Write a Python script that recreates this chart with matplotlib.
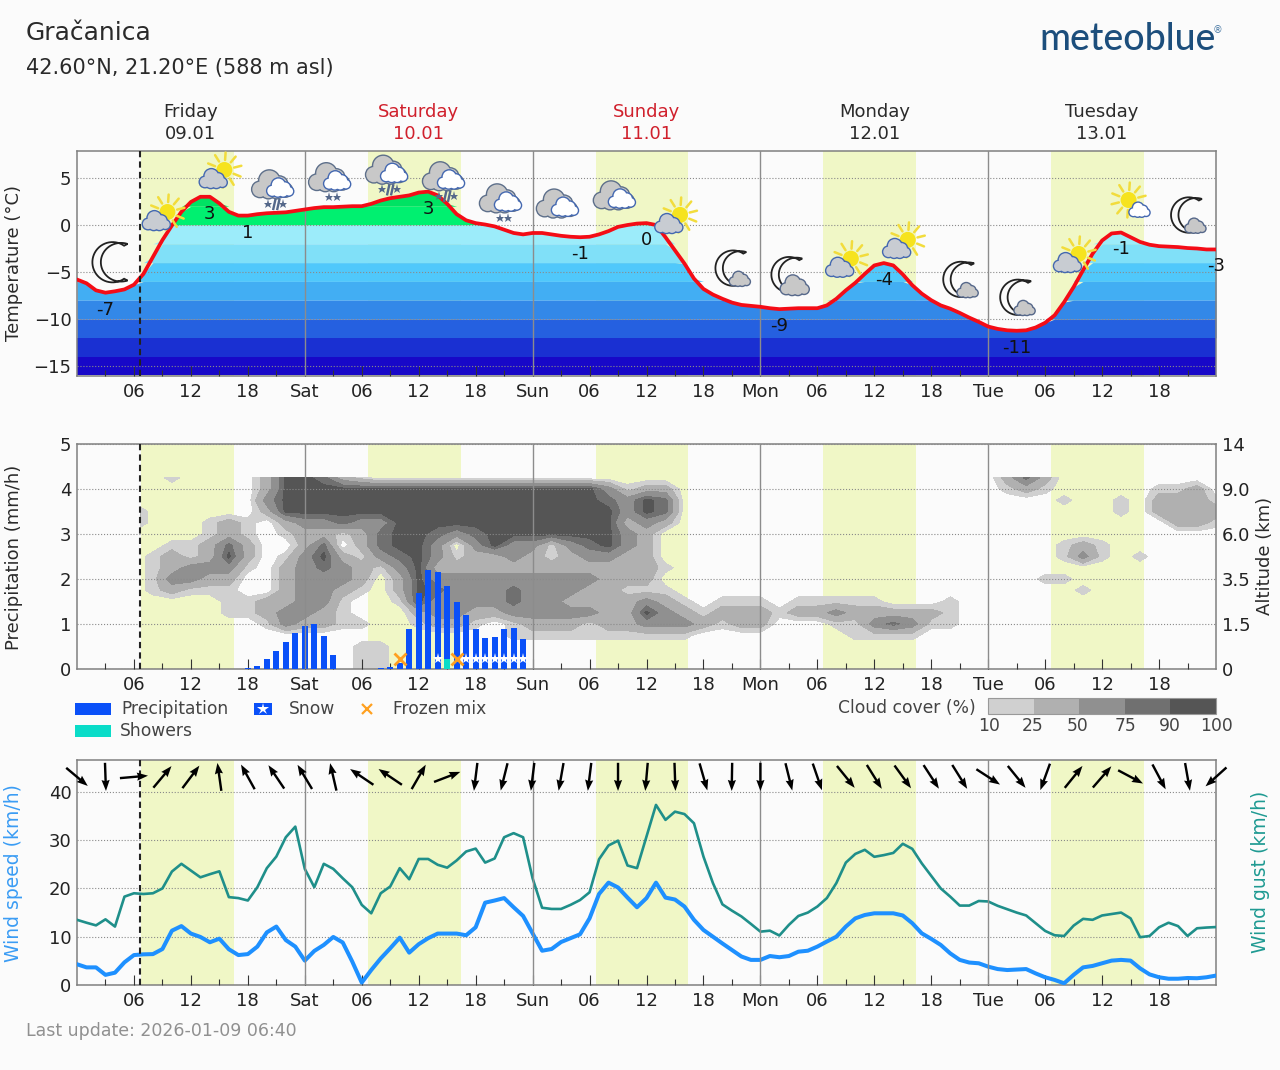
import numpy as np
from matplotlib import pyplot as plt
from matplotlib.patches import Ellipse, PathPatch, Polygon, Rectangle
from matplotlib.path import Path

W, H = 1280, 1070
PX_H = 9.49  # pixels per hour
PX_T = 9.4  # pixels per degree in the temperature panel

BG = "#fbfbfb"
DAY = "#f0f7c6"
GRID = "#8a8a8a"
SPINE = "#808080"

day_names = ["Friday", "Saturday", "Sunday", "Monday", "Tuesday"]
day_dates = ["09.01", "10.01", "11.01", "12.01", "13.01"]
day_colors = ["#2a2a2a", "#d0202c", "#d0202c", "#2a2a2a", "#2a2a2a"]
day_start = [6.7, 30.65, 54.65, 78.6, 102.6]
day_end = [16.5, 40.5, 64.4, 88.4, 112.4]
now_hour = 6.67

tick_hours = list(range(6, 120, 6))
tick_labels = ["06", "12", "18", "Sat", "06", "12", "18", "Sun", "06", "12", "18",
               "Mon", "06", "12", "18", "Tue", "06", "12", "18"]

# hourly temperature, hour 0 to 120
temperature = [
    -5.8, -6.2, -6.95, -7.2, -7.05, -6.85, -6.35, -5.2, -3.4, -1.6, -0.05, 1.4, 2.45,
    3.0, 3.0, 2.3, 1.4, 1.0, 1.0, 1.15, 1.25, 1.3, 1.35, 1.5, 1.65, 1.8, 1.9, 1.9,
    1.95, 2.0, 2.0, 2.25, 2.6, 2.85, 3.0, 3.15, 3.45, 3.55, 3.15, 2.25, 1.15, 0.5,
    0.2, 0.05, -0.15, -0.5, -0.85, -1.0, -0.85, -0.85, -1.0, -1.15, -1.25, -1.3,
    -1.25, -1.0, -0.65, -0.2, 0.0, 0.15, 0.2, 0.0, -1.3, -2.7, -4.1, -5.7, -6.8,
    -7.4, -7.85, -8.25, -8.5, -8.6, -8.7, -8.85, -8.95, -8.9, -8.85, -8.85, -8.85,
    -8.55, -7.85, -6.95, -6.15, -5.2, -4.3, -4.05, -4.3, -5.25, -6.4, -7.3, -8.0,
    -8.55, -8.9, -9.35, -9.85, -10.3, -10.8, -11.05, -11.2, -11.25, -11.2, -10.9,
    -10.4, -9.6, -8.2, -6.6, -4.8, -3.05, -1.65, -0.9, -0.8, -1.3, -1.8, -2.1,
    -2.25, -2.3, -2.35, -2.45, -2.5, -2.6, -2.6,
]
temp_label_hours = [3, 14, 18, 37, 53, 60, 74, 85, 99, 110, 120]
temp_label_text = ["-7", "3", "1", "3", "-1", "0", "-9", "-4", "-11", "-1", "-3"]

band_edges = [4, 2, 0, -2, -4, -6, -8, -10, -12, -14, -16]
band_colors = ["#00e263", "#00f070", "#9cecfa", "#80e0f8", "#50c8fb", "#42aef3",
               "#3388e8", "#2560e0", "#1a30d2", "#1808c8"]

icon_hours = list(range(3, 120, 6))
icon_temps = [-3.96, 1.06, 5.53, 3.94, 4.7, 5.5, 4.8, 2.45, 1.9, 2.77, 0.75, -4.8,
              -5.6, -3.9, -1.9, -6.0, -7.9, -3.4, 2.34, 0.85]
icon_kinds = ["moon", "sun", "sun", "sleet", "snow", "sleet", "sleet", "snow", "over",
              "over", "sun", "mooncloud", "moonbig", "sun", "sun", "mooncloud",
              "mooncloud", "sun", "sunwhite", "mooncloud"]

# cloud cover classes, one char per 2 hours, rows at altitude steps of 0.25 on the axis
cloud_rows = {
    4.25: "0000010000" "2554210000" "0000000000" "0000000000" "0000000002" "4200000000",
    4.00: "0000000000" "2555555555" "5555555531" "2200000000" "0000000001" "2100000112",
    3.75: "0000000000" "3555555555" "5555555543" "5400000000" "0000000000" "0010010222" "1",
    3.50: "0002000000" "2555555555" "5555555553" "5400000000" "0000000000" "0000010222" "2",
    3.25: "0002000121" "0233433555" "5555555552" "3200000000" "0000000000" "0000000022" "1",
    3.00: "0000000121" "0122124554" "3455555553" "2000000000",
    2.75: "0000011242" "0024024553" "0353313453" "2000000000" "0000000000" "0012100000",
    2.50: "0000121252" "0135213453" "1223212332" "2000000000" "0000000000" "0013101000",
    2.25: "0000123331" "0234321352" "2222222222" "2100000000",
    2.00: "0000133220" "0233320253" "3333333322" "2000000000" "0000000000" "0110000000",
    1.75: "0000121110" "0233210254" "3334333221" "1100000000" "0000000000" "0001000000",
    1.50: "0000000011" "2233100153" "3334332222" "3210111011" "1110001000",
    1.25: "0000000011" "2332100023" "3223333322" "5321222122" "3222221000",
    1.00: "0000000000" "1322110012" "2101222122" "3332122000" "1134311000",
    0.75: "0000000000" "0000000000" "0001111111" "1110000000" "0111100000",
    0.50: "0000000000" "0000011000",
    0.25: "0000000000" "0000011000",
    0.00: "0000000000" "0000011000",
}
cloud_class_value = [0, 17, 37, 62, 82, 95]
cloud_levels = [10, 25, 50, 75, 90, 100]
cloud_colors = ["#d0d0d0", "#b0b0b0", "#909090", "#707070", "#555555"]

precip_hours = [18, 19, 20, 21, 22, 23, 24, 25, 26, 27, 32, 33, 34, 35, 36, 37, 38, 39,
                40, 41, 42, 43, 44, 45, 46, 47]
precip = [0.02, 0.07, 0.22, 0.39, 0.59, 0.79, 0.96, 1.0, 0.74, 0.32, 0.02, 0.05, 0.13,
          0.89, 1.68, 2.2, 2.15, 1.85, 1.5, 1.2, 0.89, 0.69, 0.72, 0.89, 0.91, 0.67]
shower_hours = [39]
showers = [0.22]
snow_hours = [38, 41, 42, 43, 44, 45, 46, 47]
frozen_hours = [34, 40]
symbol_level = 0.22

altitude_labels = ["0", "1.5", "3.5", "6.0", "9.0", "14"]
cover_labels = ["10", "25", "50", "75", "90", "100"]

wind_speed = [
    4.3, 3.65, 3.65, 2.1, 2.55, 4.7, 6.2, 6.35, 6.4, 7.45, 11.25, 12.2, 10.65, 9.95,
    8.85, 9.6, 7.4, 6.2, 6.4, 7.95, 10.9, 12.1, 9.3, 7.95, 5.05, 7.05, 8.3, 9.95, 8.8,
    4.85, 0.5, 3.1, 5.5, 7.6, 9.8, 6.7, 8.45, 9.7, 10.65, 10.65, 10.65, 10.3, 11.95,
    17.05, 17.5, 18.0, 16.1, 14.3, 10.7, 7.1, 7.45, 8.9, 9.7, 10.5, 13.8, 18.85, 21.2,
    20.2, 18.1, 16.1, 18.0, 21.2, 18.1, 17.7, 16.25, 13.5, 11.4, 10.0, 8.6, 7.25, 5.9,
    5.2, 5.2, 6.0, 5.75, 6.0, 6.9, 7.1, 7.95, 9.0, 10.0, 12.1, 13.8, 14.5, 14.85,
    14.85, 14.85, 14.4, 12.8, 10.7, 9.55, 8.3, 6.55, 5.2, 4.65, 4.5, 3.8, 3.3, 3.1,
    3.2, 3.3, 2.4, 1.6, 1.05, 0.35, 2.1, 3.65, 3.95, 4.5, 5.05, 5.2, 5.05, 3.45, 2.2,
    1.6, 1.3, 1.3, 1.45, 1.4, 1.6, 1.95,
]
wind_gust = [
    13.5, 12.9, 12.35, 13.6, 12.1, 18.3, 19.0, 18.85, 19.0, 20.0, 23.5, 25.1, 23.7,
    22.3, 22.95, 23.55, 18.2, 18.0, 17.5, 20.25, 24.2, 26.6, 30.6, 32.8, 24.05, 20.25,
    25.1, 24.05, 22.1, 20.25, 16.6, 14.85, 19.0, 20.4, 24.2, 21.9, 26.1, 26.1, 24.9,
    24.3, 25.8, 27.65, 28.25, 25.35, 26.2, 30.6, 31.45, 30.6, 22.1, 16.0, 15.75, 15.75,
    16.6, 17.6, 19.2, 26.05, 28.9, 29.9, 24.75, 24.2, 30.75, 37.3, 34.2, 35.9, 35.4,
    33.5, 26.6, 21.1, 16.7, 15.4, 14.2, 12.65, 11.05, 11.25, 10.25, 12.45, 14.3, 15.0,
    16.25, 18.0, 21.1, 25.35, 27.15, 28.0, 26.55, 26.9, 27.35, 29.25, 28.2, 25.2, 22.6,
    20.0, 18.3, 16.45, 16.45, 17.4, 17.3, 16.4, 15.7, 15.0, 14.4, 12.8, 11.2, 10.3,
    10.15, 12.3, 13.7, 13.5, 14.4, 14.7, 15.0, 13.8, 9.9, 10.15, 11.95, 12.9, 12.2,
    10.15, 11.75, 11.9, 12.0,
]
# direction each arrow points to, degrees clockwise from north, every 3 hours
wind_heading = [
    130, 178, 85, 40, 37, 352, 331, 326, 329, 347, 304, 304, 30, 69, 187, 194, 187,
    190, 187, 180, 185, 178, 164, 181, 180, 166, 161, 141, 148, 144, 147, 148, 123,
    141, 200, 39, 41, 118, 152, 170, 228,
]

plt.rcParams["font.family"] = "DejaVu Sans"
plt.rcParams["font.size"] = 13
plt.rcParams["text.color"] = "#2a2a2a"

fig = plt.figure(figsize=(W / 100, H / 100), dpi=100, facecolor=BG)


def fx(x):
    return x / W


def fy(y):
    return 1 - y / H


def make_panel(top, bottom):
    ax = fig.add_axes([fx(77), fy(bottom), fx(1139), (bottom - top) / H], facecolor=BG)
    ax.set_xlim(0, 120)
    for s, e in zip(day_start, day_end):
        ax.axvspan(s, e, color=DAY, lw=0, zorder=1)
    for d in range(24, 120, 24):
        ax.axvline(d, color="#8c8c8c", lw=1, zorder=4)
    ax.axvline(now_hour, color="#222222", lw=1.5, ls=(0, (3, 2)), zorder=6)
    ax.set_xticks(tick_hours)
    ax.set_xticklabels(tick_labels)
    ax.set_xticks(range(3, 120, 6), minor=True)
    ax.tick_params(axis="x", which="major", direction="in", length=7, width=0.8,
                   color="#333333", labelcolor="#222222", labelsize=13, pad=5)
    ax.tick_params(axis="x", which="minor", direction="in", length=4, width=0.8,
                   color="#333333")
    ax.tick_params(axis="y", length=0, pad=4, labelcolor="#222222", labelsize=13)
    ax.set_axisbelow(False)
    ax.yaxis.grid(True, color=GRID, lw=0.8, ls=":")
    for s in ax.spines.values():
        s.set_color(SPINE)
        s.set_linewidth(1.1)
    return ax


# weather symbols, sizes are given in pixels around the symbol centre
def blob(ax, h, t, dx, dy, rx, ry, color, z):
    ax.add_patch(Ellipse((h + dx / PX_H, t + dy / PX_T), 2 * rx / PX_H, 2 * ry / PX_T,
                         fc=color, ec="none", zorder=z, clip_on=False))


def cloud(ax, h, t, dx, dy, width, fill, edge, z=7):
    s = width / 2
    lobes = [(-0.62, -0.22, 0.38), (-0.15, 0.22, 0.5), (0.35, 0.02, 0.4), (0.66, -0.26, 0.32),
             (-0.2, -0.3, 0.36), (0.22, -0.3, 0.36)]
    for lx, ly, r in lobes:
        blob(ax, h, t, dx + lx * s, dy + ly * s, r * s + 1.4, r * s + 1.4, edge, z)
    for lx, ly, r in lobes:
        blob(ax, h, t, dx + lx * s, dy + ly * s, r * s, r * s, fill, z + 0.1)


def sun(ax, h, t, dx, dy, r=8):
    for a in np.arange(0, 360, 36) + 14:
        x0 = r * 1.25 * np.cos(np.radians(a))
        y0 = r * 1.25 * np.sin(np.radians(a))
        ax.plot([h + (dx + x0) / PX_H, h + (dx + x0 * 1.75) / PX_H],
                [t + (dy + y0) / PX_T, t + (dy + y0 * 1.75) / PX_T],
                color="#f2dc3c", lw=1.8, zorder=7, clip_on=False, solid_capstyle="round")
    blob(ax, h, t, dx, dy, r, r, "#f6e31e", 7)


def moon(ax, h, t, dx, dy, tall):
    a = np.radians(np.linspace(55, 305, 40))
    r = tall / 2 / np.sin(np.radians(55))
    ox = r * np.cos(a) + r * 0.35
    oy = r * np.sin(a)
    b = np.radians(np.linspace(305 - 16, 55 + 16, 40))
    r2 = r * 1.0
    ix = r2 * np.cos(b) + r * 0.35 + r * 0.42
    iy = r2 * np.sin(b) * 0.96
    xs = h + (dx + np.r_[ox, ix]) / PX_H
    ys = t + (dy + np.r_[oy, iy]) / PX_T
    ax.add_patch(Polygon(np.c_[xs, ys], closed=True, fc="#fbfbfb", ec="#222222", lw=1.3,
                         zorder=7, clip_on=False))


def three_clouds(ax, h, t):
    cloud(ax, h, t, -4, 3, 40, "#c8c8c8", "#5d6f8a")
    cloud(ax, h, t, 4, 0, 26, "#ffffff", "#4468b0", z=7.5)


def flakes(ax, h, t, dy, offs):
    for o in offs:
        ax.plot(h + o / PX_H, t + dy / PX_T, marker="*", ms=6.5, color="#55688a", mew=0,
                zorder=8, clip_on=False)


def draw_icon(ax, kind, h, t):
    if kind == "moon":
        moon(ax, h, t, 0, 0, 33)
    elif kind == "sun":
        sun(ax, h, t, 5, 3)
        cloud(ax, h, t, -6, -6, 27, "#c8ccd2", "#4468b0", z=7.5)
    elif kind == "sunwhite":
        sun(ax, h, t, -2, 3)
        cloud(ax, h, t, 9, -7, 20, "#ffffff", "#4468b0", z=7.5)
    elif kind == "mooncloud":
        moon(ax, h, t, -5, 2, 29)
        cloud(ax, h, t, 8, -9, 20, "#c8c8c8", "#56688a", z=7.5)
    elif kind == "moonbig":
        moon(ax, h, t, -6, 3, 29)
        cloud(ax, h, t, 6, -8, 28, "#c8c8c8", "#56688a", z=7.5)
    else:
        three_clouds(ax, h, t)
        if kind == "snow":
            flakes(ax, h, t, -16, [-4, 4])
        if kind == "sleet":
            flakes(ax, h, t, -16, [-8, 7])
            for o in [-2, 2]:
                ax.plot([h + (o - 1) / PX_H, h + (o + 1) / PX_H],
                        [t - 21 / PX_T, t - 12 / PX_T], color="#55688a", lw=1.7, zorder=8,
                        clip_on=False)


# temperature panel
ax1 = make_panel(151, 376)
ax1.set_ylim(-16.06, 7.87)
ax1.set_yticks([-15, -10, -5, 0, 5])
ax1.set_yticklabels(["\u221215", "\u221210", "\u22125", "0", "5"])
hours = np.arange(len(temperature))
temp = np.array(temperature)
for i, c in enumerate(band_colors):
    hi, lo = band_edges[i], band_edges[i + 1]
    ax1.fill_between(hours, lo, np.clip(temp, lo, hi), color=c, lw=0, zorder=2)
ax1.plot(hours, temp, color="#f40c16", lw=2.7, zorder=5, solid_capstyle="round")
for h, txt in zip(temp_label_hours, temp_label_text):
    ax1.annotate(txt, (h, temp[h]), xytext=(0, -12.2), textcoords="offset points",
                 ha="center", va="center", fontsize=13, color="#111111", zorder=9,
                 annotation_clip=False)
for k, h, t in zip(icon_kinds, icon_hours, icon_temps):
    draw_icon(ax1, k, h, t)
ax1.set_xlim(0, 120)
ax1.set_ylim(-16.06, 7.87)

for i in range(5):
    cx = 12 + 24 * i
    tr = ax1.get_xaxis_transform()
    ax1.text(cx, fy(112) * 0 + (376 - 112) / 225, day_names[i], transform=tr, ha="center",
             va="center", color=day_colors[i], fontsize=13)
    ax1.text(cx, (376 - 134) / 225, day_dates[i], transform=tr, ha="center", va="center",
             color=day_colors[i], fontsize=13)

# precipitation and cloud cover panel
ax2 = make_panel(444, 669)
ax2.set_ylim(0, 5)
ax2.set_yticks(range(6))
cloud_y = sorted(cloud_rows)
cloud_x = np.arange(0, 121, 2)
cover = np.array([[cloud_class_value[int(c)] for c in cloud_rows[y].ljust(61, "0")]
                  for y in cloud_y], dtype=float)
cs = ax2.contourf(cloud_x, cloud_y, cover, levels=cloud_levels, colors=cloud_colors,
                  zorder=2)
cs.set_clip_path(Rectangle((now_hour, 0), 120 - now_hour, 5, transform=ax2.transData))
ax2.bar(precip_hours, precip, width=0.62, color="#0a50f8", lw=0, zorder=3)
ax2.bar(shower_hours, showers, width=0.62, color="#0adcc8", lw=0, zorder=3.1)
ax2.plot(snow_hours, [symbol_level] * len(snow_hours), ls="", marker="*", ms=8,
         color="white", mew=0, zorder=3.2)
ax2.plot(frozen_hours, [symbol_level] * len(frozen_hours), ls="", marker="x", ms=8,
         color="#ffa020", mew=2, zorder=3.3)
ax2r = ax2.twinx()
ax2r.set_ylim(0, 5)
ax2r.set_yticks(range(6))
ax2r.set_yticklabels(altitude_labels)
ax2r.tick_params(axis="y", length=0, pad=4, labelcolor="#222222", labelsize=13)
for s in ax2r.spines.values():
    s.set_visible(False)

# wind panel
ax3 = make_panel(760, 985)
ax3.set_ylim(0, 46.6)
ax3.set_yticks([0, 10, 20, 30, 40])
ax3.plot(np.arange(len(wind_gust)), wind_gust, color="#1f8f8a", lw=1.9, zorder=3)
ax3.plot(np.arange(len(wind_speed)), wind_speed, color="#1e90ff", lw=2.9, zorder=3.5)
arrow_hours = np.arange(0, 121, 3)
rad = np.radians(wind_heading)
ax3.quiver(arrow_hours, np.full(len(arrow_hours), 43.1), np.sin(rad), np.cos(rad),
           pivot="middle", angles="uv", scale_units="inches", scale=3.55, units="inches",
           width=0.024, headwidth=3.4, headlength=4.6, headaxislength=4.2, color="black",
           zorder=7, clip_on=False)

# axis titles
fig.text(fx(14), fy(263), "Temperature (°C)", rotation=90, ha="center", va="center",
         fontsize=13, color="#2a2a2a")
fig.text(fx(14), fy(557), "Precipitation (mm/h)", rotation=90, ha="center", va="center",
         fontsize=13, color="#2a2a2a")
fig.text(fx(1265), fy(556), "Altitude (km)", rotation=90, ha="center", va="center",
         fontsize=13, color="#2a2a2a")
fig.text(fx(14), fy(873), "Wind speed (km/h)", rotation=90, ha="center", va="center",
         fontsize=13.5, color="#3a9cf4")
fig.text(fx(1260), fy(872), "Wind gust (km/h)", rotation=90, ha="center", va="center",
         fontsize=13.5, color="#1f9a92")


def legend_box(x0, y0, x1, y1, color, edge="none", lw=0):
    fig.add_artist(Rectangle((fx(x0), fy(y1)), fx(x1 - x0), (y1 - y0) / H, fc=color,
                             ec=edge, lw=lw, transform=fig.transFigure))


LEG = "#444444"
legend_box(75, 703, 110.5, 715, "#0a50f8")
fig.text(fx(121), fy(709), "Precipitation", va="center", fontsize=12.3, color=LEG)
legend_box(254, 703, 272, 715, "#0a50f8")
fig.add_artist(plt.Line2D([fx(263)], [fy(709)], marker="*", ms=9, color="white", mew=0,
                          ls="", transform=fig.transFigure))
fig.text(fx(289), fy(709), "Snow", va="center", fontsize=12.3, color=LEG)
fig.add_artist(plt.Line2D([fx(367)], [fy(709)], marker="x", ms=7.5, color="#ffa020", mew=1.6,
                          ls="", transform=fig.transFigure))
fig.text(fx(393), fy(709), "Frozen mix", va="center", fontsize=12.3, color=LEG)
legend_box(75, 725, 110.5, 737, "#0adcc8")
fig.text(fx(120), fy(731), "Showers", va="center", fontsize=12.3, color=LEG)

fig.text(fx(976), fy(708), "Cloud cover (%)", ha="right", va="center", fontsize=12.3,
         color=LEG)
bar_x = np.linspace(988, 1216, 6)
for i, c in enumerate(cloud_colors):
    legend_box(bar_x[i], 698, bar_x[i + 1], 714, c)
legend_box(988, 698, 1216, 714, "none", edge="#999999", lw=0.8)
for x, txt in zip([989, 1033, 1078, 1125, 1170, 1216], cover_labels):
    fig.text(fx(x), fy(726), txt, ha="center", va="center", fontsize=12.3, color=LEG)

# header and footer
fig.text(fx(26), fy(33), "Gračanica", va="center", fontsize=18, color="#2a2a2a")
fig.text(fx(26), fy(68), "42.60°N, 21.20°E (588 m asl)", va="center", fontsize=15,
         color="#2a2a2a")
fig.text(fx(1039), fy(40), "meteoblue", va="center", fontsize=27, fontfamily="Lato",
         fontweight="medium", color="#1c4e7c")
fig.text(fx(1218), fy(30), "®", ha="center", va="center", fontsize=7, color="#4a7aa5")
fig.text(fx(26), fy(1031), "Last update: 2026-01-09 06:40", va="center", fontsize=12.5,
         color="#909090")

fig.savefig("out.png", dpi=100, facecolor=BG)
